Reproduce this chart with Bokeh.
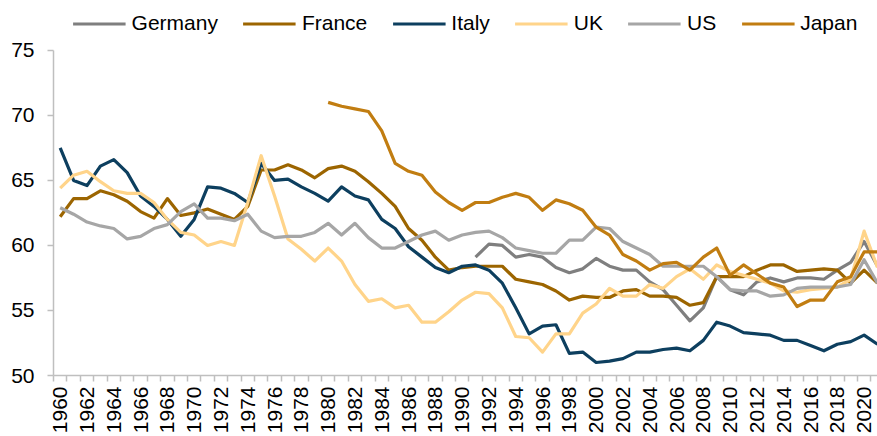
import math
import numpy as np
from bokeh.plotting import figure
from bokeh.models import FixedTicker, Legend, LegendItem, Range1d
from bokeh.embed import file_html
from bokeh.resources import INLINE

years = list(range(1960, 2022))
germany_years = list(range(1991, 2022))
japan_years = list(range(1980, 2022))

germany = [59.1, 60.1, 60.0, 59.1, 59.3, 59.1, 58.3, 57.9, 58.2,
           59.0, 58.4, 58.1, 58.1, 57.2, 56.6, 55.4, 54.2, 55.2, 57.6,
           56.6, 56.2, 57.2, 57.5, 57.2, 57.5, 57.5, 57.4, 58.1, 58.7,
           60.3, 58.4]
france = [62.2, 63.6, 63.6, 64.2, 63.9, 63.4, 62.6, 62.1, 63.6, 62.3,
          62.5, 62.8, 62.4, 62.0, 63.0, 65.8, 65.8, 66.2, 65.8, 65.2,
          65.9, 66.1, 65.7, 64.9, 64.0, 63.0, 61.3, 60.4, 59.1, 58.1,
          58.3, 58.4, 58.4, 58.4, 57.4, 57.2, 57.0, 56.5, 55.8, 56.1,
          56.0, 56.0, 56.5, 56.6, 56.1, 56.1, 56.0, 55.4, 55.6, 57.6,
          57.6, 57.6, 58.1, 58.5, 58.5, 58.0, 58.1, 58.2, 58.1, 57.1,
          58.1, 57.1]
italy = [67.5, 65.0, 64.6, 66.1, 66.6, 65.6, 63.8, 63.0, 62.0, 60.7,
         62.0, 64.5, 64.4, 64.0, 63.3, 66.3, 65.0, 65.1, 64.5, 64.0,
         63.4, 64.5, 63.8, 63.5, 62.0, 61.3, 59.9, 59.1, 58.3, 57.9,
         58.4, 58.5, 58.1, 57.1, 55.2, 53.2, 53.8, 53.9, 51.7, 51.8,
         51.0, 51.1, 51.3, 51.8, 51.8, 52.0, 52.1, 51.9, 52.7, 54.1,
         53.8, 53.3, 53.2, 53.1, 52.7, 52.7, 52.3, 51.9, 52.4, 52.6,
         53.1, 52.4]
uk = [64.4, 65.4, 65.7, 64.9, 64.2, 64.0, 64.0, 63.3, 62.0, 61.0,
      60.8, 60.0, 60.3, 60.0, 63.3, 66.9, 63.8, 60.5, 59.7, 58.8,
      59.8, 58.8, 57.0, 55.7, 55.9, 55.2, 55.4, 54.1, 54.1, 54.9,
      55.8, 56.4, 56.3, 55.2, 53.0, 52.9, 51.8, 53.2, 53.2, 54.8,
      55.5, 56.7, 56.1, 56.1, 57.0, 56.7, 57.6, 58.2, 57.4, 58.5,
      58.0, 57.7, 57.4, 57.1, 56.5, 56.4, 56.6, 56.7, 56.8, 57.4,
      61.1, 58.3]
us = [62.9, 62.4, 61.8, 61.5, 61.3, 60.5, 60.7, 61.3, 61.6, 62.6,
      63.2, 62.1, 62.1, 61.9, 62.4, 61.1, 60.6, 60.7, 60.7, 61.0,
      61.7, 60.8, 61.7, 60.6, 59.8, 59.8, 60.3, 60.8, 61.1, 60.4,
      60.8, 61.0, 61.1, 60.6, 59.8, 59.6, 59.4, 59.4, 60.4, 60.4,
      61.4, 61.3, 60.3, 59.8, 59.3, 58.4, 58.4, 58.4, 58.4, 57.6,
      56.6, 56.5, 56.5, 56.1, 56.2, 56.7, 56.8, 56.8, 56.8, 57.0,
      58.9, 57.1]
japan = [71.0, 70.7, 70.5, 70.3, 68.8, 66.3, 65.7, 65.4, 64.1, 63.3,
         62.7, 63.3, 63.3, 63.7, 64.0, 63.7, 62.7, 63.5, 63.2, 62.7,
         61.4, 60.8, 59.3, 58.8, 58.1, 58.6, 58.7, 58.1, 59.1, 59.8,
         57.7, 58.5, 57.8, 57.1, 56.8, 55.3, 55.8, 55.8, 57.2, 57.6,
         59.5, 59.5]

y_ticks = [50, 55, 60, 65, 70, 75]
x_label_years = list(range(1960, 2021, 2))

series = [
    ("Germany", germany_years, germany, "#7f7f7f"),
    ("France", years, france, "#9c6500"),
    ("Italy", years, italy, "#0d3f5f"),
    ("UK", years, uk, "#ffd48a"),
    ("US", years, us, "#a6a6a6"),
    ("Japan", japan_years, japan, "#c17d11"),
]

FONT = "Liberation Sans"
AXIS_COLOR = "#bfbfbf"

p = figure(width=877, height=436, output_backend="svg", toolbar_location=None,
           x_range=Range1d(1959.5, 2021.0), y_range=Range1d(50, 78.83),
           min_border_left=53, min_border_right=0, min_border_top=0,
           min_border_bottom=60)
p.outline_line_color = None
p.grid.visible = False
p.background_fill_color = "white"
p.border_fill_color = "white"

items = []
for name, xs, ys, color in series:
    r = p.line(xs, ys, line_color=color, line_width=3.2, line_join="round")
    items.append(LegendItem(label=name, renderers=[r]))

# y axis
ya = p.yaxis[0]
ya.ticker = FixedTicker(ticks=y_ticks)
ya.bounds = (50, 75)
ya.axis_line_color = AXIS_COLOR
ya.axis_line_width = 1.5
ya.major_tick_line_color = AXIS_COLOR
ya.major_tick_line_width = 1.5
ya.major_tick_out = 6
ya.major_tick_in = 0
ya.minor_tick_line_color = None
ya.major_label_standoff = 13
ya.major_label_text_font = FONT
ya.major_label_text_font_size = "21px"
ya.major_label_text_color = "#000000"

# x axis
xa = p.xaxis[0]
xa.ticker = FixedTicker(ticks=x_label_years,
                        minor_ticks=[y - 0.5 for y in range(1960, 2023)])
xa.axis_line_color = AXIS_COLOR
xa.axis_line_width = 1.5
xa.major_tick_line_color = None
xa.major_tick_out = 0
xa.major_tick_in = 0
xa.minor_tick_line_color = AXIS_COLOR
xa.minor_tick_line_width = 1.5
xa.minor_tick_out = 6
xa.minor_tick_in = 0
xa.major_label_orientation = math.pi / 2
xa.major_label_standoff = 5
xa.major_label_text_font = FONT
xa.major_label_text_font_size = "21px"
xa.major_label_text_color = "#000000"

legend = Legend(items=items, orientation="horizontal", location="top_center",
                margin=11, padding=0, spacing=25, label_standoff=6,
                glyph_width=53, glyph_height=21, label_height=21,
                label_text_font=FONT, label_text_font_size="21px",
                label_text_color="#000000",
                border_line_color=None, background_fill_alpha=0)
p.add_layout(legend)

open("out.html", "w").write(file_html(p, INLINE))
